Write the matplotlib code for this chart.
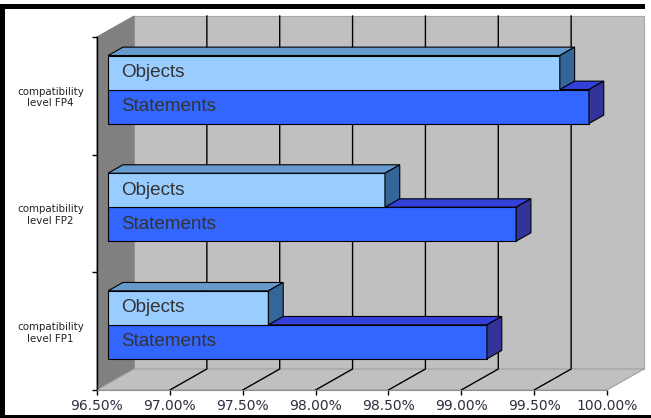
import matplotlib
matplotlib.use("Agg")
import matplotlib.pyplot as plt
import matplotlib.patches as mpatches
import matplotlib.lines as mlines
from matplotlib.transforms import Affine2D, IdentityTransform

# compatibility results per level (percent of items that pass)
levels = ["compatibility\nlevel FP1", "compatibility\nlevel FP2", "compatibility\nlevel FP4"]
objects = [97.60, 98.40, 99.60]
statements = [99.10, 99.30, 99.80]
xticks = [96.5, 97.0, 97.5, 98.0, 98.5, 99.0, 99.5, 100.0]

W, H = 651, 418
DX, DY = 37, 21          # pixel shift of the full chart depth (right, up)
BAR_D0, BAR_D1 = 0.3, 0.7  # bars sit in the middle of the depth
BAR_H = 0.289

fig = plt.figure(figsize=(W / 100, H / 100), dpi=100)
fig.patch.set_facecolor("white")
ax = fig.add_axes([97 / W, 28 / H, 510 / W, 353 / H])
ax.set_xlim(xticks[0], xticks[-1])
ax.set_ylim(-0.5, len(levels) - 0.5)
ax.patch.set_visible(False)

x0, x1 = ax.get_xlim()
y0, y1 = ax.get_ylim()


def pt(x, y, d):
    px, py = ax.transData.transform((x, y))
    return (px + d * DX, py + d * DY)


def face(pts, fc, ec="black", lw=0.8, z=1):
    p = mpatches.Polygon(pts, closed=True, facecolor=fc, edgecolor=ec, linewidth=lw,
                         transform=IdentityTransform(), zorder=z, clip_on=False)
    ax.add_patch(p)


def seg(pts, color="black", lw=1.0, z=2):
    xs = [p[0] for p in pts]
    ys = [p[1] for p in pts]
    ax.add_line(mlines.Line2D(xs, ys, color=color, linewidth=lw,
                              transform=IdentityTransform(), zorder=z, clip_on=False))


# walls and floor
face([pt(x0, y0, 1), pt(x1, y0, 1), pt(x1, y1, 1), pt(x0, y1, 1)], "#C0C0C0", ec="#A8A8A8", z=0.1)
face([pt(x0, y0, 0), pt(x0, y1, 0), pt(x0, y1, 1), pt(x0, y0, 1)], "#808080", ec="#808080", z=0.1)
face([pt(x0, y0, 0), pt(x1, y0, 0), pt(x1, y0, 1), pt(x0, y0, 1)], "#C0C0C0", ec="#A0A0A0", z=0.1)

# gridlines across floor and back wall
for v in xticks[1:-1]:
    seg([pt(v, y0, 0), pt(v, y0, 1), pt(v, y1, 1)], lw=1.0, z=0.5)


def bar3d(v, ya, yb, front, top, side):
    face([pt(x0, ya, BAR_D0), pt(v, ya, BAR_D0), pt(v, yb, BAR_D0), pt(x0, yb, BAR_D0)], front, z=3)
    face([pt(x0, yb, BAR_D0), pt(v, yb, BAR_D0), pt(v, yb, BAR_D1), pt(x0, yb, BAR_D1)], top, z=3)
    face([pt(v, ya, BAR_D0), pt(v, yb, BAR_D0), pt(v, yb, BAR_D1), pt(v, ya, BAR_D1)], side, z=3)


label_tr = ax.transData + Affine2D().translate(BAR_D0 * DX + 13.5, BAR_D0 * DY)
for i in range(len(levels)):
    bar3d(statements[i], i - BAR_H, i, "#3366FF", "#3340D9", "#333399")
    bar3d(objects[i], i, i + BAR_H, "#99CCFF", "#6699CC", "#336699")
    ax.text(x0, i + BAR_H / 2, "Objects", transform=label_tr, ha="left", va="center",
            fontsize=13.6, family="Liberation Sans", color="#333333", zorder=5)
    ax.text(x0, i - BAR_H / 2, "Statements", transform=label_tr, ha="left", va="center",
            fontsize=13.6, family="Liberation Sans", color="#333333", zorder=5)

# axes
for s in ["top", "right"]:
    ax.spines[s].set_visible(False)
ax.spines["left"].set_color("black")
ax.spines["left"].set_linewidth(1.0)
ax.spines["bottom"].set_color("#909090")
ax.spines["bottom"].set_linewidth(0.8)

ax.set_xticks(xticks)
ax.set_xticklabels(["%.2f%%" % v for v in xticks])
ax.tick_params(axis="x", direction="out", length=3.6, width=1.0, color="black",
               labelsize=10, labelcolor="#2E2E40", pad=3)
ax.set_yticks([i - 0.5 for i in range(len(levels) + 1)])
ax.set_yticklabels([])
ax.tick_params(axis="y", which="major", direction="out", length=3.6, width=1.0, color="black")
ax.set_yticks(range(len(levels)), minor=True)
ax.set_yticklabels(levels, minor=True, fontsize=7.4, color="#222222", multialignment="center")
ax.tick_params(axis="y", which="minor", length=0, pad=9.4)

# black frame around the picture
fig.add_artist(mpatches.Rectangle((0, 0), 5 / W, 414 / H, transform=fig.transFigure,
                                  facecolor="black", edgecolor="none"))
fig.add_artist(mpatches.Rectangle((0, 409 / H), 645 / W, 5 / H, transform=fig.transFigure,
                                  facecolor="black", edgecolor="none"))
fig.add_artist(mpatches.Rectangle((0, 0), 1, 3 / H, transform=fig.transFigure,
                                  facecolor="black", edgecolor="none"))

fig.savefig("out.png", dpi=100)
